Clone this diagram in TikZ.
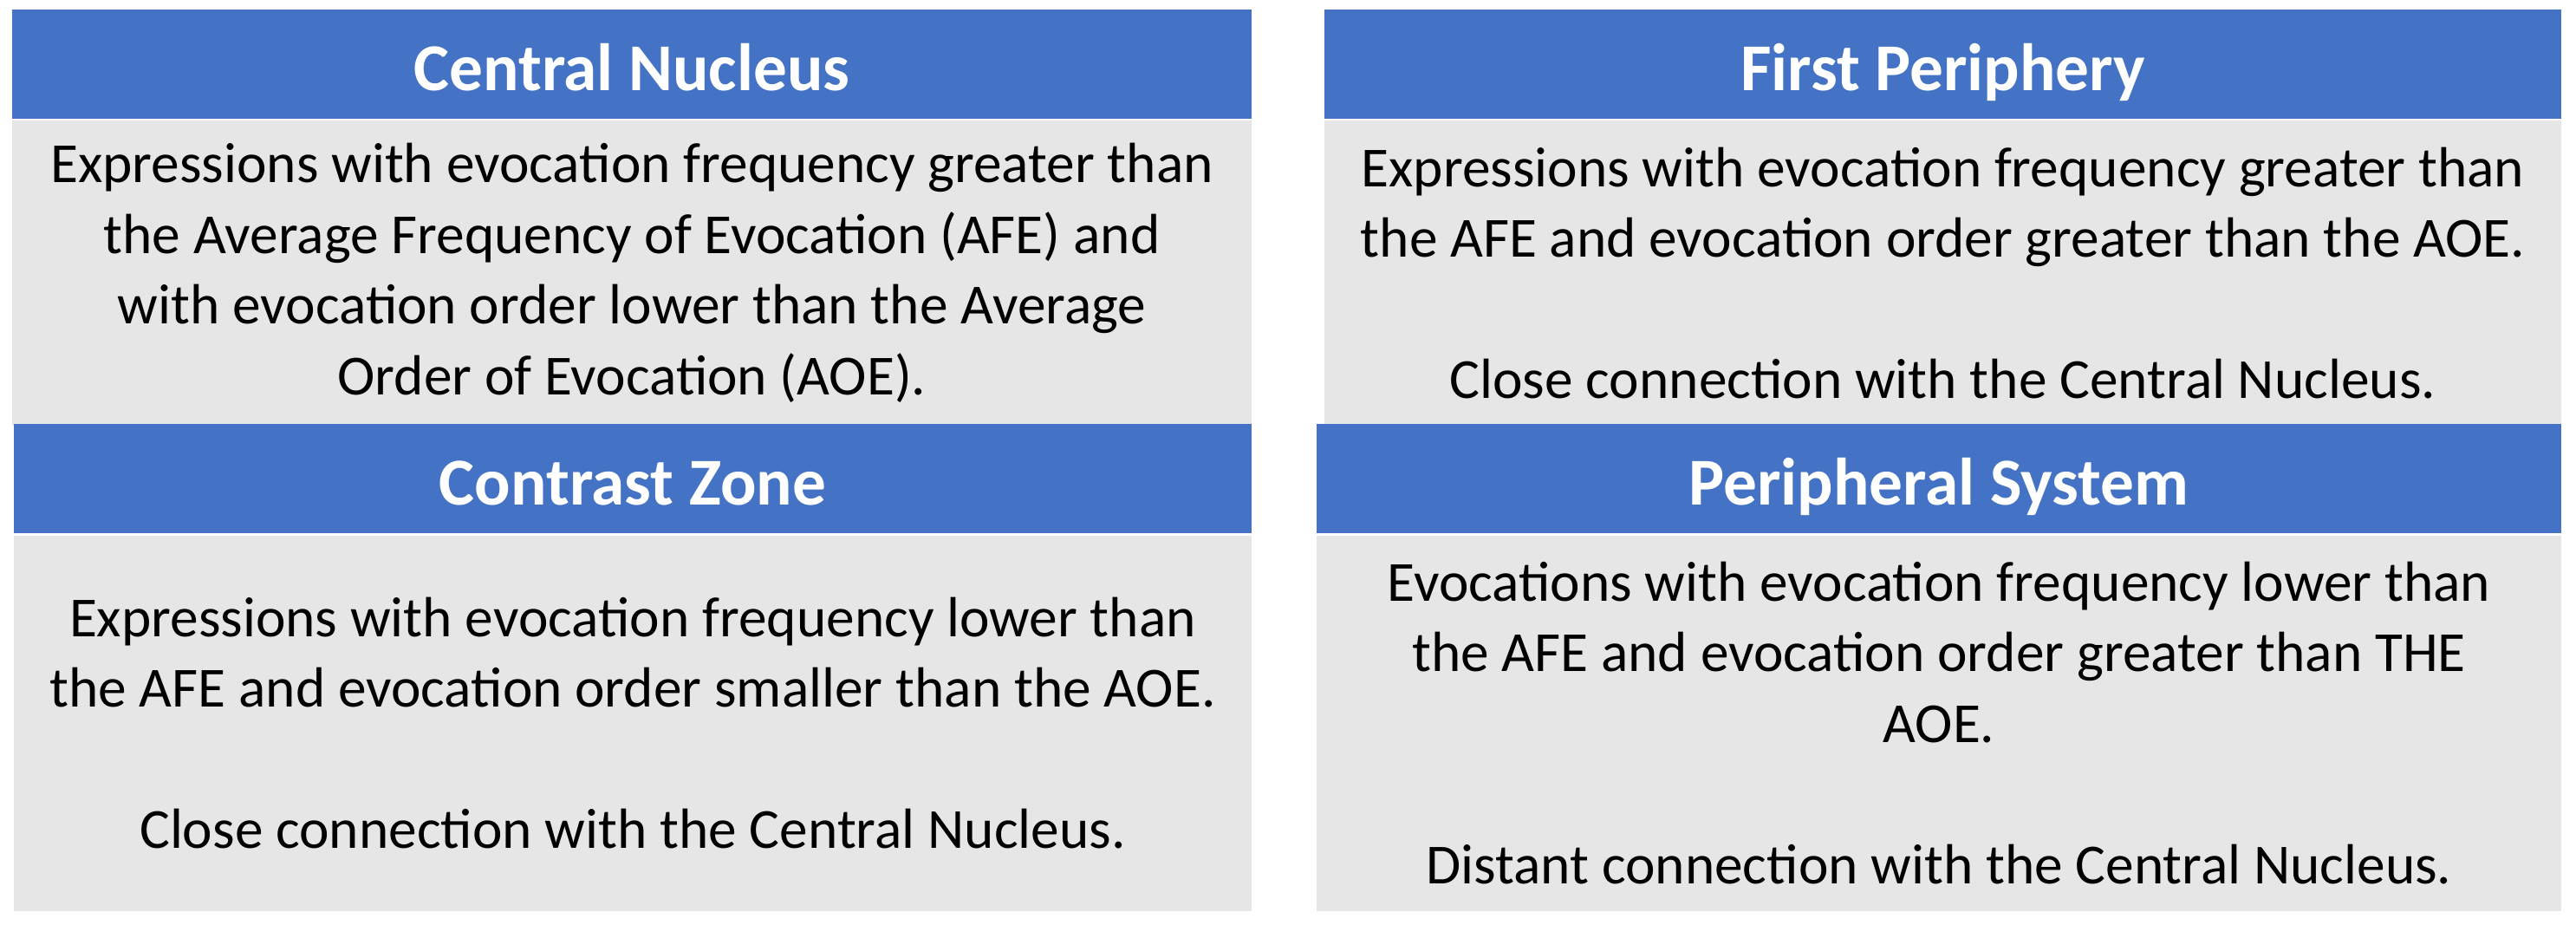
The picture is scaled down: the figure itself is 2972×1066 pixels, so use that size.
\documentclass[tikz,border=0pt]{standalone}
\usepackage{fontspec}
\setmainfont{Carlito}
\definecolor{hblue}{HTML}{4472C4}
\definecolor{bgray}{HTML}{E7E6E6}
\begin{document}
\begin{tikzpicture}[x=0.1mm,y=-0.1mm,
  hdr/.style={fill=hblue, draw=none, inner sep=0pt, text=white,
    text height=6mm, text depth=0pt,
    font=\fontsize{22}{26}\selectfont\bfseries},
  bodybox/.style={fill=bgray, draw=none, inner sep=0pt, align=center, text=black,
    font=\fontsize{18.6}{23.2}\selectfont}]
\useasboundingbox (0,0) rectangle (2972,1066);
% top-left
\node[hdr, minimum width=143mm, minimum height=12.6mm] (h1) at (729,74) {Central Nucleus};
\node[bodybox, minimum width=143mm, minimum height=35.2mm] (b1) at (729,315)
  {Expressions with evocation frequency greater than\\ the Average Frequency of Evocation (AFE) and\\ with evocation order lower than the Average\\ Order of Evocation (AOE).};
% top-right
\node[hdr, minimum width=142.7mm, minimum height=12.6mm] (h2) at (2241.5,74) {First Periphery};
\node[bodybox, minimum width=142.7mm, minimum height=35.2mm] (b2) at (2241.5,315)
  {Expressions with evocation frequency greater than\\ the AFE and evocation order greater than the AOE.\\[23.2pt] Close connection with the Central Nucleus.};
% bottom-left
\node[hdr, minimum width=142.8mm, minimum height=12.6mm] (h3) at (730,552) {Contrast Zone};
\node[bodybox, minimum width=142.8mm, minimum height=43.3mm] (b3) at (730,834)
  {Expressions with evocation frequency lower than\\ the AFE and evocation order smaller than the AOE.\\[23.2pt] Close connection with the Central Nucleus.};
% bottom-right
\node[hdr, minimum width=143.6mm, minimum height=12.6mm] (h4) at (2237,552) {Peripheral System};
\node[bodybox, minimum width=143.6mm, minimum height=43.3mm] (b4) at (2237,834)
  {Evocations with evocation frequency lower than\\ the AFE and evocation order greater than THE\\ AOE.\\[23.2pt] Distant connection with the Central Nucleus.};
\end{tikzpicture}
\end{document}
